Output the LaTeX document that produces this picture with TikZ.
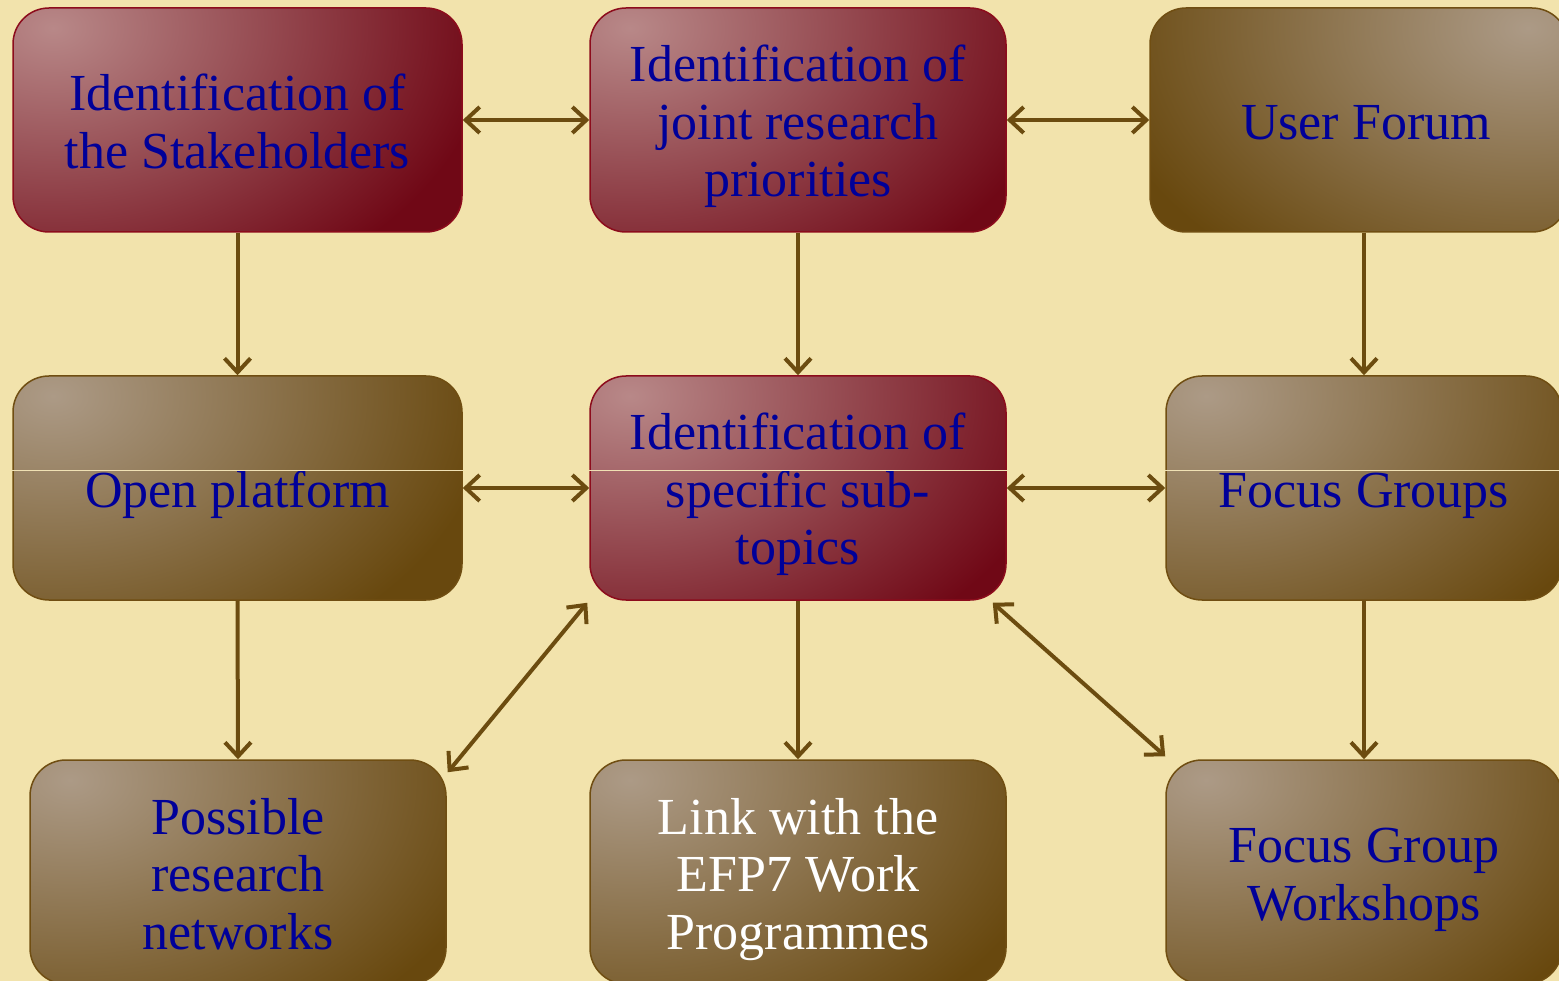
\documentclass[tikz,border=0pt]{standalone}
\usepackage{fontspec}
\setmainfont{Liberation Serif}
\usetikzlibrary{arrows.meta}
\definecolor{bg}{RGB}{242,227,172}
\definecolor{redL}{RGB}{184,136,136}
\definecolor{redD}{RGB}{112,8,22}
\definecolor{redB}{RGB}{140,12,28}
\definecolor{brL}{RGB}{172,154,134}
\definecolor{brD}{RGB}{104,72,14}
\definecolor{brB}{RGB}{112,78,18}
\definecolor{txt}{RGB}{0,0,153}
\definecolor{arrc}{RGB}{108,76,16}
\definecolor{sep}{RGB}{240,225,180}
\newcommand{\boxtext}[1]{\raisebox{-8pt}[\height][\depth]{\begin{tabular}{@{}c@{}}#1\end{tabular}}}
\tikzset{
  box/.style={rounded corners=36pt, line width=1.5pt, minimum height=224pt,
    inner sep=0pt, text=txt,
    font=\fontsize{52}{57.5}\selectfont},
  redbox/.style={box, draw=redB,
    path picture={\fill[redD] (path picture bounding box.south west) rectangle (path picture bounding box.north east);
      \shade[inner color=redL, outer color=redD]
      ([xshift=40pt,yshift=-20pt]path picture bounding box.north west) ellipse (440pt and 300pt);}},
  brbox/.style={box, draw=brB,
    path picture={\fill[brD] (path picture bounding box.south west) rectangle (path picture bounding box.north east);
      \shade[inner color=brL, outer color=brD]
      ([xshift=40pt,yshift=-20pt]path picture bounding box.north west) ellipse (440pt and 300pt);}},
  brboxr/.style={box, draw=brB,
    path picture={\fill[brD] (path picture bounding box.south west) rectangle (path picture bounding box.north east);
      \shade[inner color=brL, outer color=brD]
      ([xshift=-40pt,yshift=-20pt]path picture bounding box.north east) ellipse (440pt and 300pt);}},
  conn/.style={draw=arrc, line width=4pt, >={Straight Barb[length=14pt,width=26pt]}},
  sepline/.style={draw=sep, line width=1pt}
}
\begin{document}
\begin{tikzpicture}[x=1pt,y=-1pt]
\useasboundingbox (0,0) rectangle (1559,981);
\fill[bg] (0,0) rectangle (1559,981);
\clip (0,0) rectangle (1559,981);
% row 1
\node[redbox, minimum width=449pt] (A) at (237.5,120) {\boxtext{Identification of\\the Stakeholders}};
\node[redbox, minimum width=416pt] (B) at (798,120) {\boxtext{Identification of\\joint research\\priorities}};
\node[brboxr, minimum width=418pt] (C) at (1359,120) {\boxtext{\hspace*{14pt}User Forum}};
% row 2
\node[brbox, minimum width=449pt] (D) at (237.5,488) {\boxtext{Open platform}};
\node[redbox, minimum width=416pt] (E) at (798,488) {\boxtext{Identification of\\specific sub-\\topics}};
\node[brbox, minimum width=396pt] (F) at (1364,488) {\boxtext{Focus Groups}};
% row 3
\node[brbox, minimum width=416pt] (G) at (238,872) {\boxtext{Possible\\research\\networks}};
\node[brbox, minimum width=416pt, text=white] (H) at (798,872) {\boxtext{Link with the\\EFP7 Work\\Programmes}};
\node[brbox, minimum width=396pt] (I) at (1364,872) {\boxtext{Focus Group\\Workshops}};
% thin separator lines in row 2
\draw[sepline] ([yshift=17pt]D.west) -- ([yshift=17pt]D.east);
\draw[sepline] ([yshift=17pt]E.west) -- ([yshift=17pt]E.east);
\draw[sepline] ([yshift=17pt]F.west) -- ([yshift=17pt]F.east);
% connectors
\draw[conn,<->] (A.east) -- (B.west);
\draw[conn,<->] (B.east) -- (C.west);
\draw[conn,<->] (D.east) -- (E.west);
\draw[conn,<->] (E.east) -- (F.west);
\draw[conn,->] (A.south) -- (D.north);
\draw[conn,->] (B.south) -- (E.north);
\draw[conn,->] (C.south -| F.north) -- (F.north);
\draw[conn,->] (D.south) -- (G.north);
\draw[conn,->] (E.south) -- (H.north);
\draw[conn,->] (F.south) -- (I.north);
\draw[conn,<->] ([xshift=1pt,yshift=-13pt]G.north east) -- ([xshift=-2pt,yshift=-2pt]E.south west);
\draw[conn,<->] ([xshift=-14pt,yshift=-2pt]E.south east) -- ([yshift=3pt]I.north west);
\end{tikzpicture}
\end{document}
